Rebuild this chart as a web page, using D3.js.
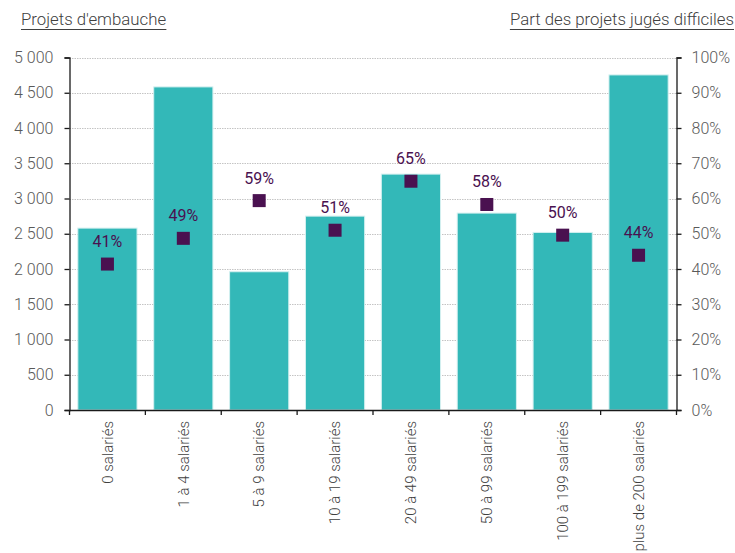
<!DOCTYPE html>
<html><head><meta charset="utf-8">
<script src="https://cdn.jsdelivr.net/npm/d3@7"></script>
<style>body{margin:0;background:#fff}svg{display:block}text{font-family:Roboto,"Open Sans",sans-serif}</style>
</head><body>
<script>
const categories = ["0 salariés","1 à 4 salariés","5 à 9 salariés","10 à 19 salariés","20 à 49 salariés","50 à 99 salariés","100 à 199 salariés","plus de 200 salariés"];
const projets = [2580, 4583, 1961, 2750, 3346, 2793, 2519, 4753];
const partDifficiles = [41.4, 48.7, 59.4, 51.0, 64.9, 58.3, 49.6, 43.9];
const leftTicks = [0,500,1000,1500,2000,2500,3000,3500,4000,4500,5000];
const rightTicks = [0,10,20,30,40,50,60,70,80,90,100];
const leftTitle = "Projets d'embauche";
const rightTitle = "Part des projets jugés difficiles";

const W = 735, H = 553;
const m = {left: 69.5, right: 676.5, top: 57.5, bottom: 410};
const svg = d3.select("body").append("svg").attr("width", W).attr("height", H);

const x = d3.scaleBand().domain(categories).range([m.left, m.right]).paddingInner(0.22).paddingOuter(0.11);
const xb = d3.scaleBand().domain(categories).range([m.left, m.right]).padding(0);
const yL = d3.scaleLinear().domain([0,5000]).range([m.bottom, m.top]);
const yR = d3.scaleLinear().domain([0,100]).range([m.bottom, m.top]);

// grid
svg.append("g").selectAll("line").data(leftTicks.slice(1)).join("line")
  .attr("x1", m.left).attr("x2", m.right)
  .attr("y1", d => Math.round(yL(d))+0.5).attr("y2", d => Math.round(yL(d))+0.5)
  .attr("stroke", "#c4c4c4").attr("stroke-width", 1).attr("stroke-dasharray", "1.5,1");

// bars
svg.append("g").selectAll("rect").data(projets).join("rect")
  .attr("x", (d,i) => x(categories[i]))
  .attr("width", x.bandwidth())
  .attr("y", d => yL(d))
  .attr("height", d => m.bottom - yL(d))
  .attr("fill", "#33b8b8")
  .attr("stroke", "#d4f0f0").attr("stroke-width", 1);

// axes
const tickColor = "#595959";
const gl = svg.append("g").attr("transform", `translate(${m.left},0)`)
  .call(d3.axisLeft(yL).tickValues(leftTicks).tickSize(5).tickPadding(11)
    .tickFormat(d => d3.format(",")(d).replace(/,/g, " ")));
const gr = svg.append("g").attr("transform", `translate(${m.right},0)`)
  .call(d3.axisRight(yR).tickValues(rightTicks).tickSize(5).tickPadding(10)
    .tickFormat(d => d + "%"));
const gb = svg.append("g").attr("transform", `translate(0,${m.bottom})`)
  .call(d3.axisBottom(xb).tickSize(0).tickFormat(d => d));
[gl, gr].forEach(g => {
  g.select(".domain").attr("stroke", "#1a1a1a").attr("stroke-width", 1.3);
  g.selectAll(".tick line").attr("stroke", "#1a1a1a").attr("stroke-width", 1.3);
  g.selectAll(".tick text").attr("fill", tickColor).style("font-size", "16px").style("font-family", "Roboto").style("font-weight", 300);
});
gb.select(".domain").attr("stroke", "#1a1a1a").attr("stroke-width", 1.3);
gb.selectAll(".tick text")
  .attr("fill", "#404040").style("font-size", "15px").style("font-family", "Roboto").style("font-weight", 300)
  .attr("transform", "rotate(-90)")
  .attr("text-anchor", "end")
  .attr("x", -11).attr("y", 0).attr("dy", "0.35em");
// boundary ticks on bottom axis
const bTicks = d3.range(categories.length + 1).map(i => m.left + i * xb.step());
svg.append("g").selectAll("line").data(bTicks).join("line")
  .attr("x1", d => d).attr("x2", d => d)
  .attr("y1", m.bottom).attr("y2", m.bottom + 5)
  .attr("stroke", "#1a1a1a").attr("stroke-width", 1.3);

// markers
const xc = i => x(categories[i]) + x.bandwidth()/2;
svg.append("g").selectAll("rect").data(partDifficiles).join("rect")
  .attr("x", (d,i) => xc(i) - 6.5).attr("y", d => yR(d) - 6.5)
  .attr("width", 13).attr("height", 13)
  .attr("fill", "#4a1150");
svg.append("g").selectAll("text").data(partDifficiles).join("text")
  .attr("x", (d,i) => xc(i)).attr("y", d => yR(d) - 17)
  .attr("text-anchor", "middle")
  .attr("fill", "#4a1150").style("font-size", "16px")
  .text(d => Math.round(d) + "%");

// titles
const t1 = svg.append("text").attr("x", 21).attr("y", 25).attr("fill", "#404040")
  .style("font-size", "16.8px").style("font-weight", 300).text(leftTitle);
const t2 = svg.append("text").attr("x", 734).attr("y", 25).attr("text-anchor", "end").attr("fill", "#404040")
  .style("font-size", "16.8px").style("font-weight", 300).text(rightTitle);
[t1, t2].forEach(t => {
  const b = t.node().getBBox();
  svg.append("line").attr("x1", b.x).attr("x2", b.x + b.width)
    .attr("y1", 29.5).attr("y2", 29.5).attr("stroke", "#404040").attr("stroke-width", 1);
});
</script>
</body></html>
